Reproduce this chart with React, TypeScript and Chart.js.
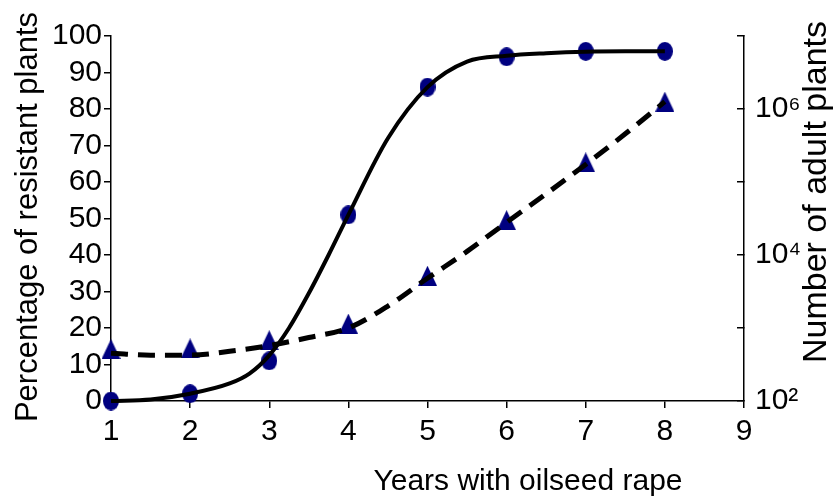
import React, { useEffect, useRef } from 'react';
import { Chart, registerables } from 'chart.js';

Chart.register(...registerables);

// ---- data ----
const years = [1, 2, 3, 4, 5, 6, 7, 8];
const resistantPct = [0, 2, 11, 51, 86, 94.3, 95.8, 95.8];
const adultPlants = [515, 525, 680, 1150, 5200, 30000, 186000, 1260000];

// fitted curves
const pctFitX = [1, 1.5, 2, 2.5, 2.75, 3, 3.25, 3.5, 3.75, 4, 4.5, 5, 5.5, 6, 6.5, 7, 7.5, 8];
const pctFitY = [0, 0.4, 2, 4.8, 7.5, 12.5, 20, 29.5, 40, 51, 72, 86, 93, 94.6, 95.3, 95.7, 95.8, 95.8];

const plantsFitX = [1, 1.5, 2, 2.5, 3, 3.5, 4, 4.5, 5, 5.5, 6, 6.5, 7, 7.5, 8];
const plantsFitY = [450, 425, 425, 480, 575, 740, 1000, 2000, 4800, 11200, 28000, 69000, 174000, 457000, 1260000];

// ticks
const xTicks = [1, 2, 3, 4, 5, 6, 7, 8, 9];
const pctTicks = [0, 10, 20, 30, 40, 50, 60, 70, 80, 90, 100];
const plantTicks = [1e2, 1e3, 1e4, 1e5, 1e6, 1e7];
const plantTickLabels = ['10²', '', '10⁴', '', '10⁶', ''];

const xTitle = 'Years with oilseed rape';
const yTitle = 'Percentage of resistant plants';
const y2Title = 'Number of adult plants';

const FONT = '"Liberation Sans", Arial, Helvetica, sans-serif';
const NAVY = '#000080';

function makeEllipse(w: number, h: number, color: string) {
  const c = document.createElement('canvas');
  c.width = w;
  c.height = h;
  const ctx = c.getContext('2d')!;
  ctx.fillStyle = color;
  ctx.beginPath();
  ctx.ellipse(w / 2, h / 2, w / 2, h / 2, 0, 0, Math.PI * 2);
  ctx.fill();
  return c;
}

function makeTriangle(w: number, h: number, color: string) {
  const c = document.createElement('canvas');
  c.width = w;
  c.height = h;
  const ctx = c.getContext('2d')!;
  ctx.fillStyle = color;
  ctx.beginPath();
  ctx.moveTo(w / 2, 0);
  ctx.lineTo(w, h);
  ctx.lineTo(0, h);
  ctx.closePath();
  ctx.fill();
  return c;
}

const titlesPlugin = {
  id: 'axisTitles',
  afterDraw(chart: any) {
    const ctx = chart.ctx as CanvasRenderingContext2D;
    ctx.save();
    ctx.fillStyle = '#000';
    ctx.textAlign = 'center';
    ctx.textBaseline = 'alphabetic';
    ctx.font = `30px ${FONT}`;
    ctx.fillText(xTitle, 528, 490);

    ctx.save();
    ctx.font = `31px ${FONT}`;
    ctx.translate(37, 217);
    ctx.rotate(-Math.PI / 2);
    ctx.fillText(yTitle, 0, 0);
    ctx.restore();

    ctx.save();
    ctx.font = `34px ${FONT}`;
    ctx.translate(826, 192);
    ctx.rotate(-Math.PI / 2);
    ctx.fillText(y2Title, 0, 0);
    ctx.restore();
    ctx.restore();
  },
};

export default function App() {
  const ref = useRef<HTMLCanvasElement | null>(null);

  useEffect(() => {
    document.body.style.margin = '0';
    const canvas = ref.current!;
    const circleImg = makeEllipse(16, 19, NAVY);
    const triImg = makeTriangle(19, 20, NAVY);

    const tickFont = { family: FONT, size: 30 };

    const chart = new Chart(canvas, {
      type: 'scatter',
      data: {
        datasets: [
          {
            label: 'pct fit',
            data: pctFitX.map((x, i) => ({ x, y: pctFitY[i] })),
            yAxisID: 'y',
            showLine: true,
            borderColor: '#000',
            borderWidth: 4,
            pointRadius: 0,
            cubicInterpolationMode: 'monotone',
            fill: false,
            clip: false,
            order: 0,
          },
          {
            label: 'plants fit',
            data: plantsFitX.map((x, i) => ({ x, y: plantsFitY[i] })),
            yAxisID: 'y2',
            showLine: true,
            borderColor: '#000',
            borderWidth: 5,
            borderDash: [17, 10],
            pointRadius: 0,
            cubicInterpolationMode: 'monotone',
            fill: false,
            clip: false,
            order: 0,
          },
          {
            label: 'resistant %',
            data: years.map((x, i) => ({ x, y: resistantPct[i] })),
            yAxisID: 'y',
            showLine: false,
            pointStyle: circleImg as any,
            pointRadius: 9,
            clip: false,
            order: 1,
          },
          {
            label: 'adult plants',
            data: years.map((x, i) => ({ x, y: adultPlants[i] })),
            yAxisID: 'y2',
            showLine: false,
            pointStyle: triImg as any,
            pointRadius: 10,
            clip: false,
            order: 1,
          },
        ],
      } as any,
      options: {
        animation: false,
        responsive: false,
        devicePixelRatio: 1,
        layout: { padding: { top: 20, left: 0, right: 0, bottom: 0 } },
        plugins: { legend: { display: false }, tooltip: { enabled: false } },
        scales: {
          x: {
            type: 'linear',
            position: 'bottom',
            min: 1,
            max: 9,
            afterBuildTicks: (s: any) => {
              s.ticks = xTicks.map((v) => ({ value: v }));
            },
            afterFit: (s: any) => {
              s.height = 96;
            },
            grid: { drawOnChartArea: false, color: '#000', lineWidth: 1.5, tickLength: 7 },
            border: { color: '#000', width: 1.5 },
            ticks: { color: '#000', font: tickFont, padding: 6, maxRotation: 0, autoSkip: false },
          },
          y: {
            type: 'linear',
            position: 'left',
            min: 0,
            max: 100,
            afterBuildTicks: (s: any) => {
              s.ticks = pctTicks.map((v) => ({ value: v }));
            },
            afterFit: (s: any) => {
              s.width = 111;
            },
            grid: { drawOnChartArea: false, color: '#000', lineWidth: 1.5, tickLength: 7 },
            border: { color: '#000', width: 1.5 },
            ticks: { color: '#000', font: tickFont, padding: 2, autoSkip: false },
          },
          y2: {
            type: 'logarithmic',
            position: 'right',
            min: 100,
            max: 1e7,
            afterBuildTicks: (s: any) => {
              s.ticks = plantTicks.map((v) => ({ value: v }));
            },
            afterFit: (s: any) => {
              s.width = 91;
            },
            grid: { drawOnChartArea: false, color: '#000', lineWidth: 1.5, tickLength: -7 },
            border: { color: '#000', width: 1.5 },
            ticks: {
              color: '#000',
              font: tickFont,
              padding: 18,
              autoSkip: false,
              callback: (_v: any, i: number) => plantTickLabels[i],
            },
          },
        },
      } as any,
      plugins: [titlesPlugin],
    });

    return () => chart.destroy();
  }, []);

  return <canvas ref={ref} width={835} height={497} style={{ display: 'block' }} />;
}
